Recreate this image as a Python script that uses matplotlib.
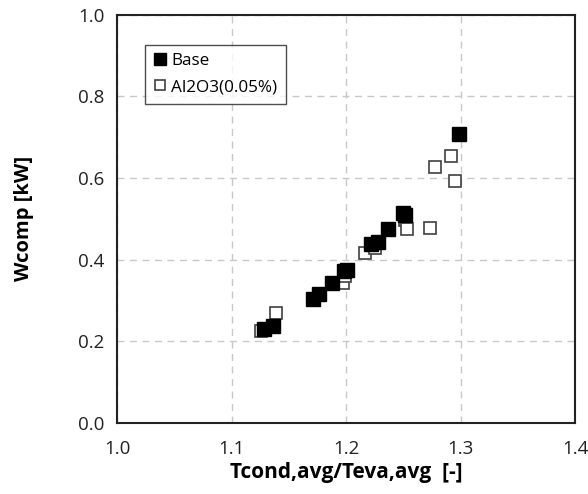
import numpy as np
import matplotlib
matplotlib.use("Agg")
import matplotlib.pyplot as plt

plt.rcParams['font.family'] = ['Open Sans', 'DejaVu Sans']

# Base series (filled squares)
base_x = [1.128, 1.1365, 1.171, 1.176, 1.1875, 1.198, 1.201, 1.2215, 1.228, 1.237, 1.2495, 1.2515, 1.299]
base_y = [0.230, 0.238, 0.303, 0.316, 0.342, 0.371, 0.375, 0.439, 0.444, 0.475, 0.515, 0.510, 0.708]

# Al2O3(0.05%) series (open squares)
nano_x = [1.126, 1.139, 1.197, 1.199, 1.2166, 1.225, 1.2515, 1.253, 1.273, 1.278, 1.292, 1.295]
nano_y = [0.224, 0.269, 0.343, 0.360, 0.417, 0.428, 0.4975, 0.475, 0.477, 0.628, 0.655, 0.593]

x_ticks = [1.0, 1.1, 1.2, 1.3, 1.4]
y_ticks = [0.0, 0.2, 0.4, 0.6, 0.8, 1.0]

fig = plt.figure(figsize=(5.88, 4.94), dpi=100)
ax = fig.add_axes([0.199, 0.144, 0.779, 0.826])

ax.plot(nano_x, nano_y, linestyle='none', marker='s', markersize=9,
        markerfacecolor='white', markeredgecolor='#404040', markeredgewidth=1.2,
        label='Al2O3(0.05%)', zorder=3)
ax.plot(base_x, base_y, linestyle='none', marker='s', markersize=9.5,
        markerfacecolor='black', markeredgecolor='black',
        label='Base', zorder=4)

ax.set_xlim(1.0, 1.4)
ax.set_ylim(0.0, 1.0)
ax.set_xticks(x_ticks)
ax.set_yticks(y_ticks)
ax.set_xticklabels([f"{v:.1f}" for v in x_ticks])
ax.set_yticklabels([f"{v:.1f}" for v in y_ticks])
ax.tick_params(length=0, labelsize=13.5, pad=9, colors='#222222')
ax.tick_params(axis='x', pad=12)

ax.grid(True, linestyle=(0, (5, 4)), color='#c8c8c8', linewidth=1.0)
ax.set_axisbelow(True)
for s in ax.spines.values():
    s.set_linewidth(1.5)
    s.set_color('#222222')

ax.set_xlabel('Tcond,avg/Teva,avg  [-]', fontsize=15, fontweight='bold', labelpad=3)
ax.set_ylabel('Wcomp [kW]', fontsize=14.5, fontweight='bold', labelpad=32)

handles, labels = ax.get_legend_handles_labels()
leg = ax.legend(handles[::-1], labels[::-1], loc='upper left',
                bbox_to_anchor=(0.062, 0.927), fontsize=12.3, frameon=True,
                fancybox=False, edgecolor='#222222', markerscale=0.85,
                handlelength=0.7, handletextpad=0.3, borderpad=0.5,
                labelspacing=0.6, borderaxespad=0.0)
leg.get_frame().set_linewidth(1.0)

fig.savefig('out.png', dpi=100)
